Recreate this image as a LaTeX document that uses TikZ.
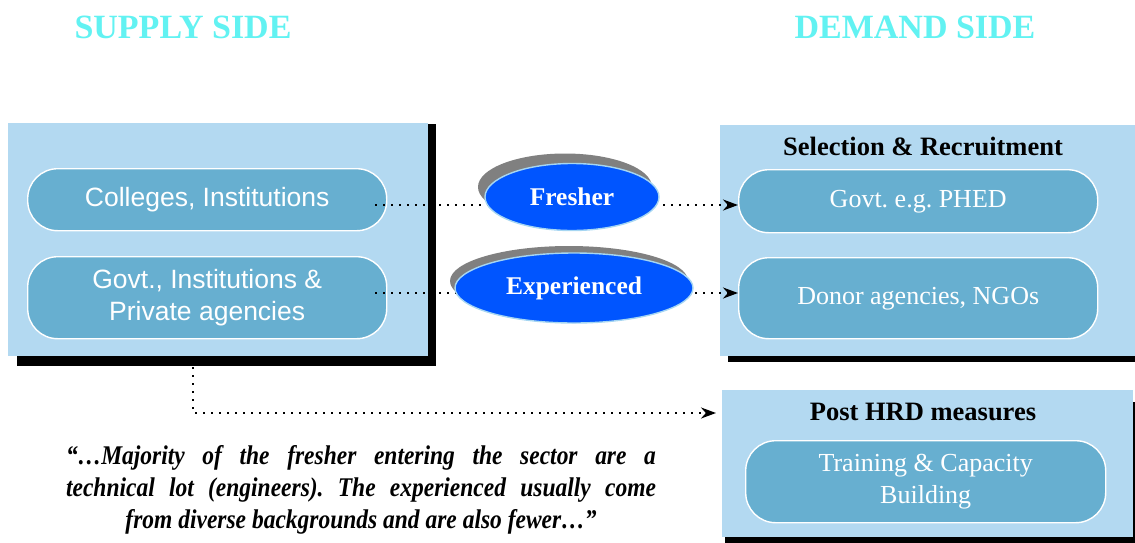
\documentclass[tikz,border=0pt]{standalone}
\usepackage{fontspec}
\setmainfont{Liberation Serif}
\newfontfamily\arialfont{Liberation Sans}
\usetikzlibrary{shapes.geometric,arrows.meta}
\frenchspacing
\definecolor{panelblue}{HTML}{B3D9F1}
\definecolor{boxblue}{HTML}{67AFD0}
\definecolor{titlecyan}{HTML}{62F2F2}
\definecolor{ovalblue}{HTML}{0055FF}
\definecolor{ovalrim}{HTML}{A6D6F2}
\definecolor{ovalshade}{HTML}{808080}
\tikzset{
  panel/.style={fill=panelblue, draw=none, anchor=north west, inner sep=0pt},
  panelshade/.style={fill=black, draw=none},
  pill/.style={fill=boxblue, draw=white, line width=1.4pt, rounded corners=30pt,
    anchor=north west, inner sep=0pt, text=white, align=center},
  sanslabel/.style={font=\arialfont\fontsize{26.5}{32}\selectfont},
  seriflabel/.style={font=\fontsize{26}{32}\selectfont},
  heading/.style={font=\bfseries\fontsize{26.5}{30}\selectfont, text=black},
  sidetitle/.style={font=\bfseries\fontsize{34}{38}\selectfont, text=titlecyan},
  oval/.style={ellipse, fill=ovalblue, draw=ovalrim, line width=1.4pt, inner sep=0pt,
    text=white, font=\bfseries\fontsize{25.5}{30}\selectfont},
  ovalback/.style={ellipse, fill=ovalshade, draw=none, inner sep=0pt},
  dotarrow/.style={line width=2pt, dash pattern=on 2pt off 6pt,
    -{Stealth[length=15pt,width=11pt]}},
}
\begin{document}
\begin{tikzpicture}[x=1pt,y=-1pt]
\useasboundingbox (0,0) rectangle (1135,542);

% column headings
\node[sidetitle] (supplytitle) at (183,27) {SUPPLY SIDE};
\node[sidetitle] (demandtitle) at (915,27) {DEMAND SIDE};

% supply side panel
\fill[panelshade] (17,124) rectangle (436,366);
\node[panel, minimum width=420pt, minimum height=233pt] (supply) at (8,123) {};
\node[pill, sanslabel, minimum width=359pt, minimum height=62pt] (colleges) at (27,168) {Colleges, Institutions};
\node[pill, sanslabel, minimum width=359pt, minimum height=82pt] (private) at (27,256) {Govt., Institutions \&\\Private agencies};

% selection and recruitment panel
\fill[panelshade] (728,130) rectangle (1140,362);
\node[panel, minimum width=420pt, minimum height=231pt] (select) at (720,125) {};
\node[heading] (selecthead) at (923,146) {Selection \& Recruitment};
\node[pill, seriflabel, minimum width=359pt, minimum height=63pt] (govt) at (738,169) {Govt. e.g. PHED};
\node[pill, seriflabel, minimum width=359pt, minimum height=81pt] (donor) at (738,257) {Donor agencies, NGOs};

% post HRD panel
\fill[panelshade] (725,402) rectangle (1140,545);
\node[panel, minimum width=411pt, minimum height=147pt] (post) at (722,390) {};
\node[heading] (posthead) at (923,412) {Post HRD measures};
\node[pill, seriflabel, minimum width=360pt, minimum height=82pt] (training) at (745,440) {Training \& Capacity\\Building};

% connectors
\coordinate (fromcolleges) at (375,205);
\coordinate (fromprivate) at (375,293);
\coordinate (fromsupply) at (193,367);
\draw[dotarrow] (fromcolleges) -- (fromcolleges -| govt.west);
\draw[dotarrow] (fromprivate) -- (fromprivate -| donor.west);
\draw[dotarrow] (fromsupply) |- ([xshift=-6pt,yshift=-23pt]post.north west);

% flow labels
\node[ovalback, minimum width=174pt, minimum height=67pt] (fresherback) at (565,187) {};
\node[oval, minimum width=174pt, minimum height=67pt] (fresher) at (572,197) {Fresher};
\node[ovalback, minimum width=238pt, minimum height=70pt] (expback) at (569,281) {};
\node[oval, minimum width=238pt, minimum height=70pt] (experienced) at (574,288) {Experienced};

% quotation, set condensed
\node[font=\bfseries\itshape\fontsize{27}{32}\selectfont, inner sep=0pt] (quote) at (361,490)
  {\scalebox{0.87}[1]{\begin{tabular}{@{}c@{}}
   \makebox[678pt][s]{``\dots Majority of the fresher entering the sector are a}\\
   \makebox[678pt][s]{technical lot (engineers). The experienced usually come}\\
   from diverse backgrounds and are also fewer\dots''
   \end{tabular}}};
\end{tikzpicture}
\end{document}
